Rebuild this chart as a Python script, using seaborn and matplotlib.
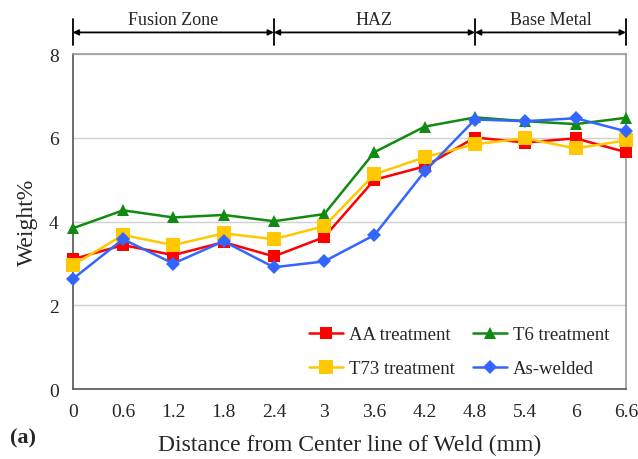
import matplotlib
matplotlib.use("Agg")
import matplotlib.pyplot as plt
import seaborn as sns
import pandas as pd
from matplotlib.lines import Line2D

distance = [0, 0.6, 1.2, 1.8, 2.4, 3.0, 3.6, 4.2, 4.8, 5.4, 6.0, 6.6]
aa = [3.10, 3.44, 3.20, 3.51, 3.17, 3.63, 5.00, 5.32, 6.01, 5.89, 5.99, 5.66]
t6 = [3.84, 4.27, 4.10, 4.16, 4.01, 4.18, 5.66, 6.27, 6.49, 6.40, 6.33, 6.48]
t73 = [2.96, 3.68, 3.44, 3.72, 3.58, 3.89, 5.13, 5.54, 5.85, 5.99, 5.75, 5.94]
aswelded = [2.63, 3.58, 3.00, 3.53, 2.91, 3.05, 3.68, 5.20, 6.44, 6.40, 6.47, 6.16]
series_names = ["AA treatment", "T6 treatment", "T73 treatment", "As-welded"]
tick_labels = ["0", "0.6", "1.2", "1.8", "2.4", "3", "3.6", "4.2", "4.8", "5.4", "6", "6.6"]
zones = ["Fusion Zone", "HAZ", "Base Metal"]
zone_edges = [0, 2.4, 4.8, 6.6]

rows = []
for name, vals in zip(series_names, [aa, t6, t73, aswelded]):
    for x, v in zip(distance, vals):
        rows.append({"Distance": x, "Weight": v, "Series": name})
df = pd.DataFrame(rows)

sns.set_theme(style="white")
plt.rcParams["font.family"] = ["Liberation Serif", "DejaVu Serif"]

palette = {"AA treatment": "#FF0000", "T6 treatment": "#118A11",
           "T73 treatment": "#FFC800", "As-welded": "#3366FF"}
markers = {"AA treatment": "s", "T6 treatment": "^",
           "T73 treatment": "s", "As-welded": "D"}
msize = {"AA treatment": 9, "T6 treatment": 9, "T73 treatment": 10, "As-welded": 7}

fig = plt.figure(figsize=(6.38, 4.60), dpi=100)
ax = fig.add_axes([0.114, 0.152, 0.867, 0.728])

for name in series_names:
    sub = df[df["Series"] == name]
    sns.lineplot(data=sub, x="Distance", y="Weight", ax=ax, color=palette[name],
                 marker=markers[name], markersize=msize[name], markeredgewidth=0,
                 linewidth=1.8, legend=False, clip_on=False, zorder=3)

ax.set_xlim(0, 6.6)
ax.set_ylim(0, 8)
ax.set_xticks(distance)
ax.set_xticklabels(tick_labels)
ax.set_yticks([0, 2, 4, 6, 8])
ax.set_yticklabels(["0", "2", "4", "6", "8"])
ax.tick_params(axis="x", direction="in", length=4, color="#888888", labelsize=14, pad=10)
ax.tick_params(axis="y", length=0, labelsize=14, pad=10)
ax.yaxis.grid(True, color="#D0D0D0", linewidth=1)
ax.set_axisbelow(True)
for s in ["left", "bottom"]:
    ax.spines[s].set_color("#555555")
for s in ["top", "right"]:
    ax.spines[s].set_color("#999999")
for s in ax.spines.values():
    s.set_linewidth(1.2)

ax.set_xlabel("Distance from Center line of Weld (mm)", fontsize=17, labelpad=10)
ax.set_ylabel("Weight%", fontsize=17, labelpad=8)

# zone annotations on top
for x in zone_edges:
    ax.plot([x, x], [8.23, 8.83], color="black", linewidth=1.3, clip_on=False)
for i, z in enumerate(zones):
    x0, x1 = zone_edges[i], zone_edges[i + 1]
    ax.annotate("", xy=(x1, 8.52), xytext=(x0, 8.52), xycoords="data",
                arrowprops=dict(arrowstyle="<|-|>", color="black", lw=1.3,
                                mutation_scale=8, shrinkA=0, shrinkB=0),
                annotation_clip=False)
    ax.text((x0 + x1) / 2, 8.62, z, ha="center", va="bottom", fontsize=13)

handles = [Line2D([], [], color=palette[n], marker=markers[n], markersize=msize[n],
                  markeredgewidth=0, linewidth=1.8) for n in
           ["AA treatment", "T73 treatment", "T6 treatment", "As-welded"]]
labels = ["AA treatment", "T73 treatment", "T6 treatment", "As-welded"]
ax.legend(handles, labels, ncol=2, frameon=False, loc="lower right",
          bbox_to_anchor=(1.0, -0.015), fontsize=13.5, handlelength=1.8,
          handletextpad=0.3, columnspacing=1.0, labelspacing=0.9)

fig.text(0.015, 0.025, "(a)", fontsize=16, fontweight="bold", ha="left", va="bottom")

fig.savefig("out.png", dpi=100)
